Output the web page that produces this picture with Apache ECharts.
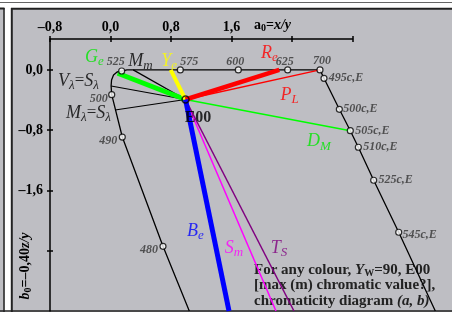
<!DOCTYPE html>
<html>
<head>
<meta charset="utf-8">
<script src="https://cdn.jsdelivr.net/npm/echarts@6/dist/echarts.min.js"></script>
<style>
  html, body { margin: 0; padding: 0; background: #fff; }
  #chart { width: 452px; height: 312px; }
</style>
</head>
<body>
<div id="chart"></div>
<script>
// axes: a0 = x/y (top), b0 = -0,40 z/y (left)
const xTicks = [-0.8, 0, 0.8, 1.6, 2.4, 3.2];
const xLabels = [-0.8, 0, 0.8, 1.6];
const yTicks = [0, -0.8, -1.6, -2.4];
const yLabels = [0, -0.8, -1.6];

// spectral locus (a0, b0)
const locusA = [1.042, 0.694, 0.156, 0.016, 0.008, 0.014, 0.040, 0.087, 0.148, 0.218, 0.298, 0.923, 1.690, 2.343, 2.770];
const locusB = [-3.2, -2.341, -0.891, -0.329, -0.214, -0.134, -0.068, -0.028, -0.015, -0.001, 0, 0, 0, 0, 0];
// complementary wavelengths line
const complA = [2.770, 2.823, 3.026, 3.171, 3.277, 3.480, 3.811, 4.295];
const complB = [0, -0.112, -0.523, -0.807, -1.027, -1.465, -2.155, -3.2];

// marked wavelengths
const markName = ['480', '490', '500', '525', '575', '600', '625', '700',
  '495c,E', '500c,E', '505c,E', '510c,E', '525c,E', '545c,E'];
const markA = [0.694, 0.156, 0.016, 0.148, 0.923, 1.690, 2.343, 2.770, 2.823, 3.026, 3.171, 3.277, 3.480, 3.811];
const markB = [-2.341, -0.891, -0.329, -0.015, 0, 0, 0, 0, -0.112, -0.523, -0.807, -1.027, -1.465, -2.155];

// white point E00 and rays from it
const e00 = [0.992, -0.393];
const rayName = ['Vl', 'Ml', 'Mm', 'PL', 'DM', 'Sm', 'TS', 'Ge', 'Ye', 'Re', 'Be'];
const rayA = [0.008, 0.060, 0.300, 2.770, 3.171, 2.188, 2.426, 0.095, 0.796, 2.232, 1.567];
const rayB = [-0.214, -0.532, 0, 0, -0.807, -3.2, -3.2, -0.045, 0, 0, -3.2];

// text notes in the plot
const noteText = ['{b|G}{s|e}', '{b|M}{s|m}', '{b|Y}{s|e}', '{b|R}{s|e}', '{b|P}{s|L}', '{b|D}{s|M}',
  '{b|V}{s|λ}{u|=}{b|S}{s|λ}', '{b|M}{s|λ}{u|=}{b|S}{s|λ}', '{e|E00}', '{b|B}{s|e}', '{b|S}{s|m}', '{b|T}{s|S}'];
const noteA = [-0.212, 0.397, 0.774, 2.102, 2.367, 2.757, -0.423, -0.291, 1.157, 1.124, 1.633, 2.228];
const noteB = [0.171, 0.118, 0.118, 0.224, -0.333, -0.953, -0.147, -0.572, -0.638, -2.138, -2.364, -2.364];

// ---- styles ----
const serif = '"Liberation Serif", "DejaVu Serif", serif';
const rayStyle = {
  Vl: ['#000', 1.2], Ml: ['#000', 1.2], Mm: ['#000', 1.2],
  PL: ['#ff0000', 1.5], DM: ['#00ff00', 1.5], Sm: ['#ff00ff', 1.5], TS: ['#800080', 1.5],
  Ge: ['#00ff00', 5], Ye: ['#ffff00', 4], Re: ['#ff0000', 4.5], Be: ['#0000ff', 5]
};
const noteColor = ['#00e600', '#000', '#ffff00', '#ff0000', '#ff0000', '#00e600',
  '#000', '#000', '#000', '#0000ff', '#ff00ff', '#800080'];
const markOffset = [[-14, 4], [-14, 4], [-13, 4], [-6, -9], [9, -8], [-3, -8], [-3, -8], [2, -9],
  [22, 0], [21, 0], [22, 0], [22, 0], [22, 0], [21, 3]];

const fmt = v => (v < 0 ? '–' : '') + Math.abs(v).toFixed(1).replace('.', ',');
const zip = (a, b) => a.map((v, i) => [v, b[i]]);

const X_MIN = -0.8, Y_MIN = -3.2, Y_MAX = 0.41;
const PX = 302.5 / 4.0;            // pixels per unit on x
const GRID_L = 50, GRID_T = 39, GRID_H = 272;

let series = [];
series.push({
  type: 'line', xAxisIndex: 2, yAxisIndex: 2, data: zip(locusA, locusB),
  symbol: 'none', lineStyle: { color: '#000', width: 1.3 }, z: 3, silent: true
});
series.push({
  type: 'line', xAxisIndex: 2, yAxisIndex: 2, data: zip(complA, complB),
  symbol: 'none', lineStyle: { color: '#000', width: 1.3 }, z: 3, silent: true
});
for (let i = 0; i < rayName.length; i++) {
  let st = rayStyle[rayName[i]];
  series.push({
    type: 'line', xAxisIndex: 2, yAxisIndex: 2, data: [e00, [rayA[i], rayB[i]]],
    symbol: 'none', lineStyle: { color: st[0], width: st[1] }, z: 4, silent: true
  });
}
series.push({
  type: 'scatter', xAxisIndex: 2, yAxisIndex: 2, z: 6, silent: true,
  symbol: 'circle', symbolSize: 6,
  itemStyle: { color: '#fff', borderColor: '#000', borderWidth: 1.2 },
  label: {
    show: true, position: 'inside', formatter: p => p.name,
    fontFamily: serif, fontStyle: 'italic', fontWeight: 'bold', fontSize: 12, color: '#333'
  },
  data: markName.map((n, i) => ({ name: n, value: [markA[i], markB[i]], label: { offset: markOffset[i] } }))
});
series.push({
  type: 'scatter', xAxisIndex: 2, yAxisIndex: 2, z: 7, silent: true,
  symbol: 'circle', symbolSize: 7,
  itemStyle: { color: 'rgba(0,0,0,0)', borderColor: '#000', borderWidth: 1.6 },
  data: [e00]
});
series.push({
  type: 'scatter', xAxisIndex: 2, yAxisIndex: 2, z: 8, silent: true,
  symbol: 'circle', symbolSize: 1, itemStyle: { color: 'rgba(0,0,0,0)' },
  data: noteText.map((t, i) => ({
    value: [noteA[i], noteB[i]],
    label: { formatter: t, color: noteColor[i] }
  })),
  label: {
    show: true, position: 'inside', fontFamily: serif,
    rich: {
      b: { fontSize: 18, fontStyle: 'italic', fontFamily: serif },
      s: { fontSize: 13, fontStyle: 'italic', fontFamily: serif, padding: [9, 0, 0, 0] },
      u: { fontSize: 17, fontFamily: serif },
      e: { fontSize: 16, fontWeight: 'bold', fontFamily: serif }
    }
  }
});

const axisLine = { show: true, onZero: false, lineStyle: { color: '#000', width: 1.5 } };
const noLine = { show: false, onZero: false };
const tickLine = { color: '#000', width: 1.5 };

let option = {
  backgroundColor: '#bebec3',
  animation: false,
  grid: [
    { left: GRID_L, top: GRID_T, width: 302.5, height: GRID_H },
    { left: GRID_L, top: GRID_T, width: 402, height: GRID_H }
  ],
  xAxis: [
    {
      gridIndex: 0, type: 'value', position: 'top', min: X_MIN, max: 3.2,
      axisLine: axisLine, splitLine: { show: false },
      axisTick: { customValues: xTicks, length: 3, lineStyle: tickLine },
      axisLabel: {
        customValues: xLabels, formatter: fmt, margin: 5,
        fontFamily: serif, fontWeight: 'bold', fontSize: 14, color: '#000'
      }
    },
    {
      gridIndex: 0, type: 'value', position: 'top', min: X_MIN, max: 3.2,
      axisLine: noLine, splitLine: { show: false }, axisLabel: { show: false },
      axisTick: { customValues: xTicks, inside: true, length: 3, lineStyle: tickLine }
    },
    {
      gridIndex: 1, type: 'value', min: X_MIN, max: X_MIN + 402 / PX, show: false,
      axisLine: noLine
    }
  ],
  yAxis: [
    { gridIndex: 0, type: 'value', min: Y_MIN, max: Y_MAX, show: false, axisLine: noLine },
    { gridIndex: 0, type: 'value', min: Y_MIN, max: Y_MAX, show: false, axisLine: noLine },
    {
      gridIndex: 1, type: 'value', position: 'left', min: Y_MIN, max: Y_MAX,
      axisLine: axisLine, splitLine: { show: false },
      axisTick: { customValues: yTicks, length: 3, lineStyle: tickLine },
      axisLabel: {
        customValues: yLabels, formatter: fmt, margin: 7,
        fontFamily: serif, fontWeight: 'bold', fontSize: 14, color: '#000'
      }
    },
    {
      gridIndex: 1, type: 'value', position: 'left', min: Y_MIN, max: Y_MAX,
      axisLine: noLine, splitLine: { show: false }, axisLabel: { show: false },
      axisTick: { customValues: yTicks, inside: true, length: 3, lineStyle: tickLine }
    }
  ],
  graphic: [
    // frame
    { type: 'rect', shape: { x: 0, y: 0, width: 452, height: 8 }, style: { fill: '#fff' }, silent: true },
    { type: 'line', shape: { x1: 0, y1: 2.5, x2: 452, y2: 2.5 }, style: { stroke: '#666', lineWidth: 1 }, silent: true },
    { type: 'rect', shape: { x: 4.5, y: 8, width: 6.5, height: 304 }, style: { fill: '#fff' }, silent: true },
    { type: 'line', shape: { x1: 0, y1: 8.5, x2: 4.5, y2: 8.5 }, style: { stroke: '#222', lineWidth: 2 }, silent: true },
    { type: 'line', shape: { x1: 4, y1: 8, x2: 4, y2: 312 }, style: { stroke: '#222', lineWidth: 1.5 }, silent: true },
    { type: 'line', shape: { x1: 11, y1: 8.8, x2: 452, y2: 8.8 }, style: { stroke: '#222', lineWidth: 2 }, silent: true },
    { type: 'line', shape: { x1: 11.8, y1: 8, x2: 11.8, y2: 312 }, style: { stroke: '#222', lineWidth: 2 }, silent: true },
    { type: 'line', shape: { x1: 0, y1: 311, x2: 452, y2: 311 }, style: { stroke: '#222', lineWidth: 1.5 }, silent: true },
    // axis titles
    {
      type: 'text', x: 254, y: 25, silent: true,
      style: {
        text: '{n|a}{o|0}{n|=}{i|x/y}', verticalAlign: 'middle', fill: '#000',
        rich: {
          n: { fontSize: 14, fontWeight: 'bold', fontFamily: serif },
          o: { fontSize: 10, fontWeight: 'bold', fontFamily: serif, padding: [7, 0, 0, 0] },
          i: { fontSize: 14, fontWeight: 'bold', fontStyle: 'italic', fontFamily: serif }
        }
      }
    },
    {
      type: 'text', x: 25, y: 266, rotation: Math.PI / 2, silent: true,
      style: {
        text: '{i|b}{o|0}{n|=–0,40}{i|z/y}', align: 'center', verticalAlign: 'middle', fill: '#000',
        rich: {
          n: { fontSize: 14, fontWeight: 'bold', fontFamily: serif },
          o: { fontSize: 10, fontWeight: 'bold', fontFamily: serif, padding: [7, 0, 0, 0] },
          i: { fontSize: 14, fontWeight: 'bold', fontStyle: 'italic', fontFamily: serif }
        }
      }
    },
    // caption
    {
      type: 'text', x: 254, y: 270, silent: true,
      style: {
        text: '{n|For any colour, }{i|Y}{o|W}{n|=90, E00}', verticalAlign: 'middle', fill: '#222',
        rich: {
          n: { fontSize: 15, fontWeight: 'bold', fontFamily: serif },
          o: { fontSize: 10, fontWeight: 'bold', fontFamily: serif, padding: [7, 0, 0, 0] },
          i: { fontSize: 15, fontWeight: 'bold', fontStyle: 'italic', fontFamily: serif }
        }
      }
    },
    {
      type: 'text', x: 254, y: 285, silent: true,
      style: {
        text: '[max (m) chromatic value?],', verticalAlign: 'middle', fill: '#222',
        font: 'bold 15px ' + serif
      }
    },
    {
      type: 'text', x: 254, y: 301, silent: true,
      style: {
        text: '{n|chromaticity diagram }{i|(a, b)}', verticalAlign: 'middle', fill: '#222',
        rich: {
          n: { fontSize: 15, fontWeight: 'bold', fontFamily: serif },
          i: { fontSize: 15, fontWeight: 'bold', fontStyle: 'italic', fontFamily: serif }
        }
      }
    }
  ],
  series: series
};

let myChart = echarts.init(document.getElementById('chart'));
myChart.setOption(option);
</script>
</body>
</html>
